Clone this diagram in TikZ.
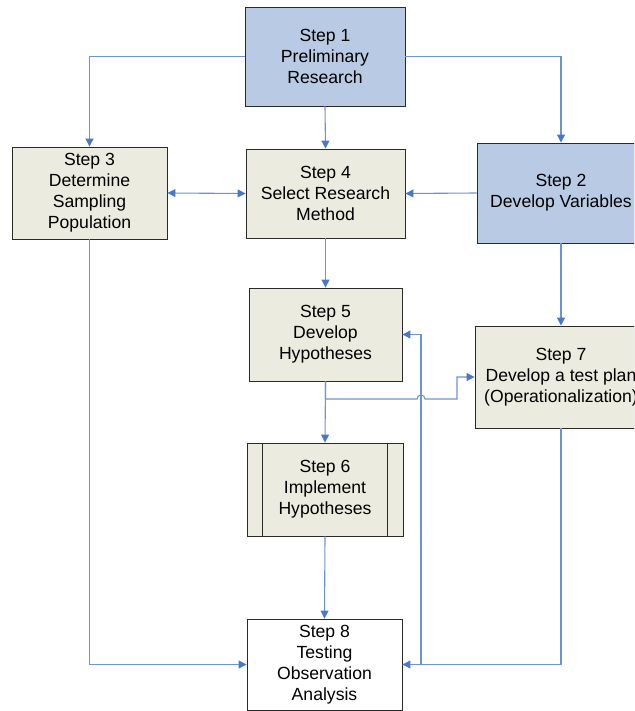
\documentclass[tikz,border=0pt]{standalone}
\usepackage{fontspec}
\setmainfont{Liberation Sans}
\usetikzlibrary{arrows.meta,shadows}
\definecolor{boxblue}{HTML}{B9CBE4}
\definecolor{boxbeige}{HTML}{EBEBDF}
\definecolor{linkblue}{HTML}{6E93D4}
\definecolor{tipblue}{HTML}{4A78C8}
\definecolor{edgegray}{HTML}{2A2A2A}
\begin{document}
\begin{tikzpicture}[x=1pt,y=-1pt,
  stepbox/.style={draw=edgegray, line width=0.9pt, align=center, inner sep=0pt,
    font=\fontsize{17.6}{21}\selectfont,
    drop shadow={shadow xshift=1.4pt, shadow yshift=-1.4pt, fill=black!55, opacity=1}},
  bluebox/.style={stepbox, fill=boxblue},
  beigebox/.style={stepbox, fill=boxbeige},
  whitebox/.style={stepbox, fill=white},
  link/.style={draw=linkblue, line width=1.1pt},
  arr/.style={link, -{Triangle[length=8pt,width=8pt,color=tipblue]}},
  darr/.style={link, {Triangle[length=8pt,width=8pt,color=tipblue]}-{Triangle[length=8pt,width=8pt,color=tipblue]}}
]
\useasboundingbox (0,0) rectangle (634,711);
\clip (0,0) rectangle (634,711);
\fill[white] (0,0) rectangle (634,711);

\node[bluebox, minimum width=160pt, minimum height=99pt] (s1) at (325,56.5) {Step 1\\Preliminary\\Research};
\node[beigebox, minimum width=155pt, minimum height=92pt] (s3) at (89.5,193) {Step 3\\Determine\\Sampling\\Population};
\node[beigebox, minimum width=159pt, minimum height=89pt] (s4) at (325.5,193.5) {Step 4\\Select Research\\Method};
\node[bluebox, minimum width=168pt, minimum height=100pt] (s2) at (561,193) {Step 2\\Develop Variables};
\node[beigebox, minimum width=153pt, minimum height=93pt] (s5) at (325.5,334.5) {Step 5\\Develop\\Hypotheses};
\node[beigebox, minimum width=172pt, minimum height=102pt] (s7) at (561,377) {Step 7\\Develop a test plan\\(Operationalization)};
\node[beigebox, minimum width=156pt, minimum height=93pt] (s6) at (325,489.5) {Step 6\\Implement\\Hypotheses};
\draw[edgegray, line width=0.9pt] ([xshift=16pt]s6.north west) -- ([xshift=16pt]s6.south west);
\draw[edgegray, line width=0.9pt] ([xshift=-16pt]s6.north east) -- ([xshift=-16pt]s6.south east);
\node[whitebox, minimum width=155pt, minimum height=91pt] (s8) at (324.5,664.5) {Step 8\\Testing\\Observation\\Analysis};

\coordinate (h1) at (325.5,399);
\coordinate (hopA) at (417,399);
\coordinate (h2) at (457,399);
\coordinate (j2) at (421,664.5);

\draw[arr] (s1.west) -| (s3.north);
\draw[arr] (s1.south) -- (s4.north);
\draw[arr] (s1.east) -| (s2.north);
\draw[darr] (s3.east) -- (s4.west);
\draw[arr] (s2.west) -- (s4.east);
\draw[arr] (s4.south) -- (s5.north);
\draw[arr] (s2.south) -- (s7.north);
\draw[arr] (s5.south) -- (s6.north);
\draw[arr] (s5.south) -- (h1) -- (hopA) arc[start angle=180, end angle=360, radius=4] -- (h2) |- (s7.west);
\draw[arr] (s6.south) -- (s8.north);
\draw[arr] (s3.south) |- (s8.west);
\draw[arr] (s7.south) |- (s8.east);
\draw[arr] (j2) |- (s5.east);
\end{tikzpicture}
\end{document}
